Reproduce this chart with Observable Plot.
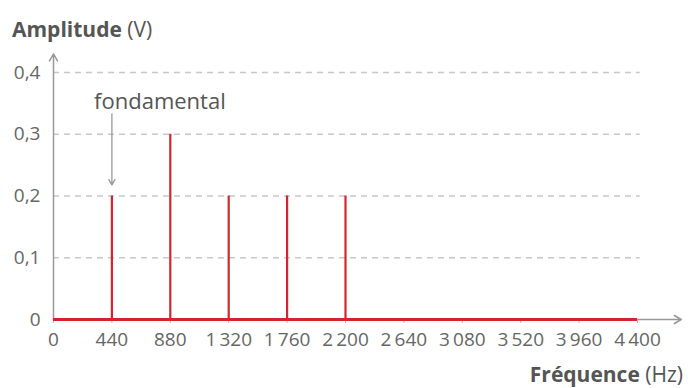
<!DOCTYPE html>
<html><head><meta charset="utf-8">
<script src="https://cdn.jsdelivr.net/npm/d3@7"></script>
<script src="https://cdn.jsdelivr.net/npm/@observablehq/plot@0.6"></script>
<style>
html,body{margin:0;padding:0;background:#fff;}
#chart{position:relative;width:688px;height:388px;}
</style>
</head><body><div id="chart"></div>
<script>
const frequencies = [440, 880, 1320, 1760, 2200];
const amplitudes = [0.2, 0.3, 0.2, 0.2, 0.2];
const xTicks = [0, 440, 880, 1320, 1760, 2200, 2640, 3080, 3520, 3960, 4400];
const yTicks = [0, 0.1, 0.2, 0.3, 0.4];
const fundamentalLabel = "fondamental";
const fundamentalFreq = 440;

const bars = frequencies.map((f, i) => ({f, a: amplitudes[i]}));
const fmtX = d => d >= 1000 ? String(d).replace(/(\d)(\d{3})$/, "$1\u2009$2") : String(d);
const fmtY = d => d === 0 ? "0" : d.toFixed(1).replace(".", ",");
const grey = "#666";
const red = "#d8232e";
const font = "'Open Sans', sans-serif";

const plot = Plot.plot({
  width: 688, height: 388,
  marginLeft: 53, marginRight: 51, marginTop: 72, marginBottom: 69,
  style: {fontFamily: font, fontSize: "19px", color: grey, background: "#fff"},
  x: {domain: [0, 4400], label: null},
  y: {domain: [0, 0.4], label: null},
  marks: [
    Plot.ruleY(yTicks.filter(d => d > 0), {x1: 0, x2: 4420, stroke: "#c8c8c8", strokeDasharray: "6,5", strokeWidth: 1.3}),
    Plot.axisX({ticks: xTicks, tickFormat: fmtX, tickSize: 4, tickPadding: 9, stroke: "#bbb", fill: grey, fontSize: 19, label: null}),
    Plot.axisY({ticks: yTicks, tickFormat: fmtY, tickSize: 0, tickPadding: 13, fill: grey, fontSize: 19, label: null}),
    Plot.arrow([{}], {x1: 0, x2: 4730, y1: 0, y2: 0, stroke: "#999", strokeWidth: 1.5, headLength: 8, clip: false}),
    Plot.arrow([{}], {x1: 0, x2: 0, y1: 0, y2: 0.43, stroke: "#999", strokeWidth: 1.5, headLength: 8, clip: false}),
    Plot.ruleY([0], {x1: 0, x2: 4400, stroke: red, strokeWidth: 3}),
    Plot.ruleX(bars, {x: "f", y1: 0, y2: "a", stroke: red, strokeWidth: 2.2}),
    Plot.arrow([{}], {x1: fundamentalFreq, x2: fundamentalFreq, y1: 0.333, y2: 0.218, stroke: "#999", strokeWidth: 1.3, headLength: 7}),
    Plot.text([fundamentalLabel], {x: fundamentalFreq, y: 0.353, text: d => d, dx: 48, fontSize: 22, fill: "#555"})
  ]
});
document.getElementById("chart").appendChild(plot);

const svg = d3.select(plot);
const t1 = svg.append("text").attr("x", 12).attr("y", 37).attr("text-anchor", "start").attr("font-size", 21).attr("fill", "#555")
  .attr("font-family", font);
t1.append("tspan").attr("font-weight", "bold").text("Amplitude");
t1.append("tspan").text(" (V)");
const t2 = svg.append("text").attr("x", 683).attr("y", 382).attr("text-anchor", "end").attr("font-size", 21).attr("fill", "#555")
  .attr("font-family", font);
t2.append("tspan").attr("font-weight", "bold").text("Fréquence");
t2.append("tspan").text(" (Hz)");
</script>
</body></html>
